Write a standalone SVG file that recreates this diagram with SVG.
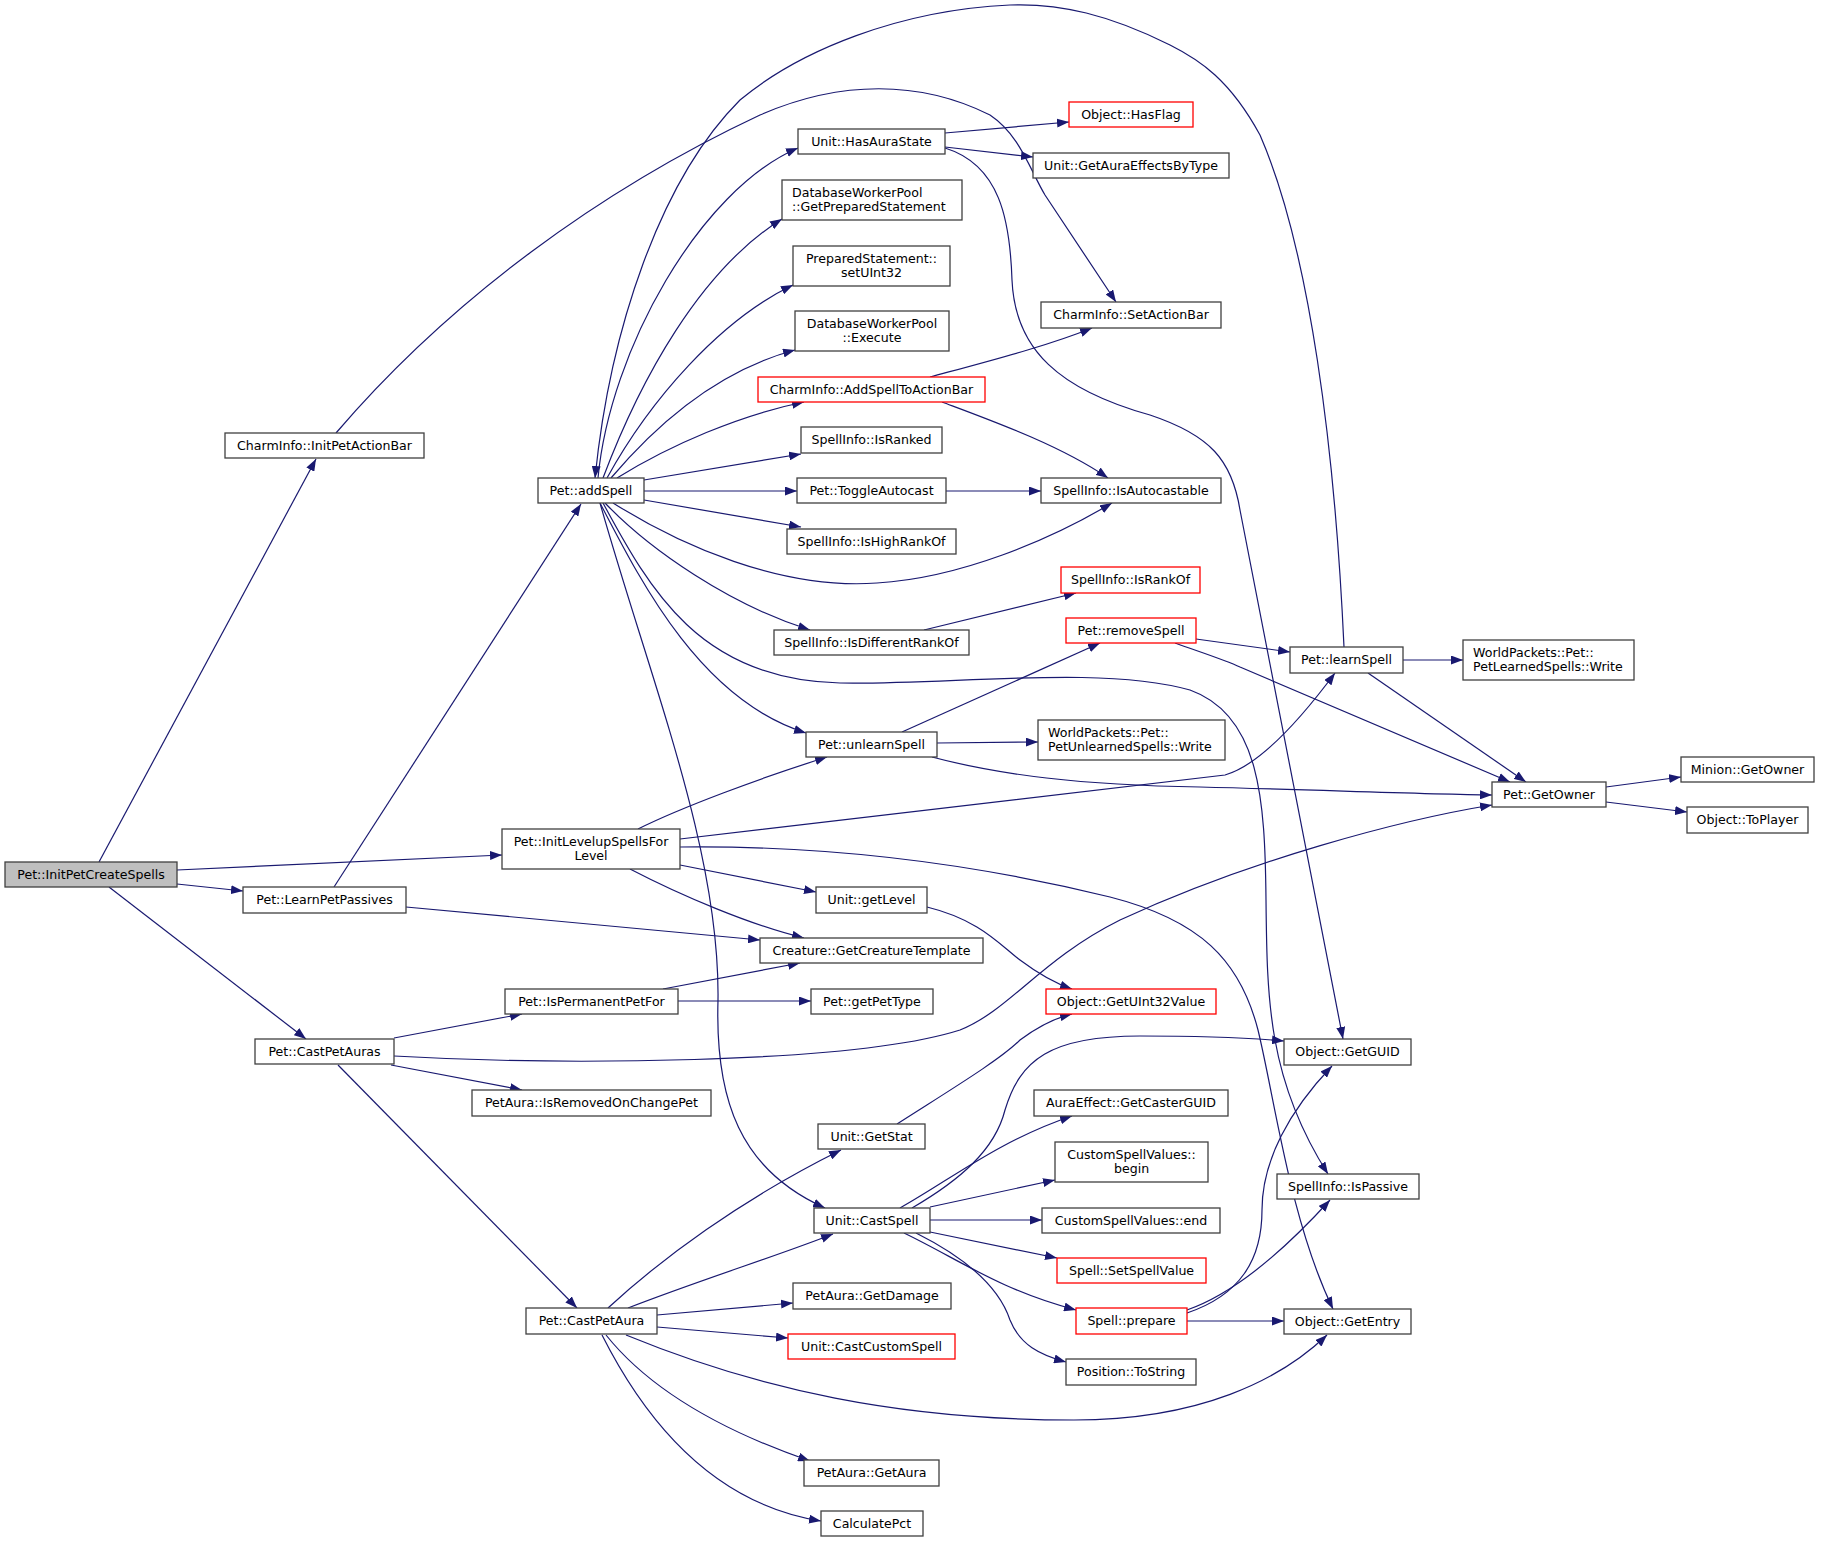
<svg xmlns="http://www.w3.org/2000/svg" width="1827" height="1543" viewBox="0 0 1827 1543">
<defs>
<marker id="ah" viewBox="0 0 12 9" refX="12" refY="4.5" markerWidth="12" markerHeight="9" markerUnits="userSpaceOnUse" orient="auto"><path d="M0,0 L12,4.5 L0,9 z" fill="#191970"/></marker>
<style>
.n rect{fill:#fff;stroke:#404040;stroke-width:1.3}
.r rect{fill:#fff;stroke:#ff0000;stroke-width:1.3}
.root rect{fill:#bfbfbf;stroke:#404040;stroke-width:1.3}
text{font-family:"DejaVu Sans","Liberation Sans",sans-serif;font-size:12.6px;fill:#000}
.c{text-anchor:middle}
.e path{fill:none;stroke:#191970;stroke-width:1.2;marker-end:url(#ah)}
</style>
</defs>
<rect width="1827" height="1543" fill="#fff"/>
<g class="e" id="connectors">
<path d="M99,862 L316,459"/>
<path d="M177,870 L502,855"/>
<path d="M177,884 L243,891"/>
<path d="M109,887 L306,1039"/>
<path d="M336,433 C450,300 600,190 760,115 C840,80 920,80 990,115 C1020,135 1030,170 1045,195 L1116,302"/>
<path d="M334,887 L581,504"/>
<path d="M406,907 L760,940"/>
<path d="M638,829 C680,808 760,778 827,757"/>
<path d="M680,839 L1225,775 C1260,765 1300,720 1335,673"/>
<path d="M680,865 L816,892"/>
<path d="M630,869 C680,895 750,925 804,938"/>
<path d="M680,847 C850,845 1000,870 1110,897 C1200,920 1240,960 1258,1030 C1275,1100 1290,1220 1333,1309"/>
<path d="M394,1038 L522,1014"/>
<path d="M394,1056 C550,1065 850,1065 960,1030 C1010,1010 1040,960 1120,920 C1250,860 1400,820 1492,805"/>
<path d="M391,1065 L522,1090"/>
<path d="M338,1065 L577,1308"/>
<path d="M663,989 L800,963"/>
<path d="M678,1001 L811,1001"/>
<path d="M598,478 C610,350 700,190 798,148"/>
<path d="M603,478 C640,380 700,270 782,219"/>
<path d="M607,478 C650,400 720,320 793,285"/>
<path d="M611,478 C660,420 720,370 795,350"/>
<path d="M617,478 C670,445 740,415 804,402"/>
<path d="M644,480 L801,454"/>
<path d="M644,491 L797,491"/>
<path d="M644,500 L801,527"/>
<path d="M613,503 C680,545 780,590 877,583 C960,578 1050,540 1112,503"/>
<path d="M605,503 C650,550 730,605 810,630"/>
<path d="M600,503 C640,580 700,700 806,733"/>
<path d="M603,503 C650,590 700,680 840,683 C950,685 1100,665 1190,690 C1260,715 1265,800 1266,900 C1267,1000 1268,1080 1328,1174"/>
<path d="M600,503 C650,680 720,850 718,1000 C715,1100 740,1170 825,1208"/>
<path d="M1344,647 C1335,450 1310,250 1260,135 C1230,80 1200,60 1170,45 C1110,15 1060,3 1010,5 C900,10 800,50 740,100 C660,180 610,330 595,478"/>
<path d="M945,133 L1069,122"/>
<path d="M945,147 L1033,157"/>
<path d="M945,148 C1000,165 1010,220 1012,280 C1015,350 1060,390 1150,415 C1210,435 1232,460 1240,510 L1343,1039"/>
<path d="M930,377 C1000,358 1050,345 1092,328"/>
<path d="M942,402 C990,420 1060,445 1108,478"/>
<path d="M946,491 L1041,491"/>
<path d="M924,630 L1076,593"/>
<path d="M902,732 L1100,643"/>
<path d="M937,743 L1038,742"/>
<path d="M932,757 C1000,775 1080,785 1200,787 C1320,790 1420,794 1492,795"/>
<path d="M1196,639 L1290,652"/>
<path d="M1175,643 C1200,652 1225,660 1240,667 L1510,782"/>
<path d="M1403,660 L1463,660"/>
<path d="M1368,673 L1526,782"/>
<path d="M1606,787 L1681,777"/>
<path d="M1606,802 L1687,812"/>
<path d="M927,907 C980,920 1000,945 1020,960 C1040,975 1060,985 1072,989"/>
<path d="M897,1124 C950,1090 1000,1060 1020,1040 C1040,1025 1055,1018 1072,1014"/>
<path d="M608,1308 C660,1260 740,1200 841,1150"/>
<path d="M628,1308 C700,1280 780,1255 833,1234"/>
<path d="M657,1315 L793,1303"/>
<path d="M657,1327 L788,1338"/>
<path d="M626,1335 C760,1390 900,1420 1074,1420 C1200,1420 1280,1380 1327,1335"/>
<path d="M606,1335 C650,1390 720,1430 810,1461"/>
<path d="M602,1335 C650,1430 720,1505 821,1521"/>
<path d="M900,1208 C950,1180 1000,1140 1072,1116"/>
<path d="M912,1208 C960,1180 995,1150 1005,1110 C1020,1060 1050,1036 1140,1036 C1200,1036 1250,1038 1284,1041"/>
<path d="M930,1207 L1055,1180"/>
<path d="M930,1220 L1042,1220"/>
<path d="M930,1232 L1057,1258"/>
<path d="M904,1233 C960,1260 1000,1290 1076,1310"/>
<path d="M916,1233 C970,1260 1000,1290 1010,1320 C1020,1345 1040,1355 1066,1362"/>
<path d="M1187,1313 C1240,1295 1262,1260 1262,1210 C1262,1160 1290,1110 1332,1066"/>
<path d="M1187,1310 C1230,1295 1280,1255 1330,1200"/>
<path d="M1187,1321 L1284,1321"/>
</g>
<g id="n1" class="root"><rect x="5" y="862" width="172" height="25"/><text class="c" x="91" y="879">Pet::InitPetCreateSpells</text></g>
<g id="n2" class="n"><rect x="225" y="433" width="199" height="25"/><text class="c" x="324.5" y="450">CharmInfo::InitPetActionBar</text></g>
<g id="n3" class="n"><rect x="243" y="887" width="163" height="26"/><text class="c" x="324.5" y="904">Pet::LearnPetPassives</text></g>
<g id="n4" class="n"><rect x="502" y="829" width="178" height="40"/><text class="c" x="591" y="846">Pet::InitLevelupSpellsFor</text><text class="c" x="591" y="860">Level</text></g>
<g id="n5" class="n"><rect x="255" y="1039" width="139" height="25"/><text class="c" x="324.5" y="1056">Pet::CastPetAuras</text></g>
<g id="n6" class="n"><rect x="538" y="478" width="106" height="25"/><text class="c" x="591" y="495">Pet::addSpell</text></g>
<g id="n7" class="n"><rect x="798" y="129" width="147" height="25"/><text class="c" x="871.5" y="146">Unit::HasAuraState</text></g>
<g id="n8" class="n"><rect x="782" y="180" width="180" height="40"/><text x="792" y="197">DatabaseWorkerPool</text><text x="792" y="211">::GetPreparedStatement</text></g>
<g id="n9" class="n"><rect x="793" y="246" width="157" height="40"/><text class="c" x="871.5" y="263">PreparedStatement::</text><text class="c" x="871.5" y="277">setUInt32</text></g>
<g id="n10" class="n"><rect x="795" y="311" width="154" height="40"/><text class="c" x="872" y="328">DatabaseWorkerPool</text><text class="c" x="872" y="342">::Execute</text></g>
<g id="n11" class="r"><rect x="758" y="377" width="227" height="25"/><text class="c" x="871.5" y="394">CharmInfo::AddSpellToActionBar</text></g>
<g id="n12" class="n"><rect x="801" y="427" width="141" height="26"/><text class="c" x="871.5" y="444">SpellInfo::IsRanked</text></g>
<g id="n13" class="n"><rect x="797" y="478" width="149" height="25"/><text class="c" x="871.5" y="495">Pet::ToggleAutocast</text></g>
<g id="n14" class="r"><rect x="1069" y="102" width="124" height="25"/><text class="c" x="1131" y="119">Object::HasFlag</text></g>
<g id="n15" class="n"><rect x="1033" y="153" width="196" height="25"/><text class="c" x="1131" y="170">Unit::GetAuraEffectsByType</text></g>
<g id="n16" class="n"><rect x="1041" y="302" width="180" height="26"/><text class="c" x="1131" y="319">CharmInfo::SetActionBar</text></g>
<g id="n17" class="n"><rect x="1041" y="478" width="180" height="25"/><text class="c" x="1131" y="495">SpellInfo::IsAutocastable</text></g>
<g id="n18" class="n"><rect x="787" y="529" width="169" height="25"/><text class="c" x="871.5" y="546">SpellInfo::IsHighRankOf</text></g>
<g id="n19" class="r"><rect x="1061" y="567" width="139" height="26"/><text class="c" x="1130.5" y="584">SpellInfo::IsRankOf</text></g>
<g id="n20" class="r"><rect x="1066" y="618" width="130" height="25"/><text class="c" x="1131" y="635">Pet::removeSpell</text></g>
<g id="n21" class="n"><rect x="774" y="630" width="195" height="25"/><text class="c" x="871.5" y="647">SpellInfo::IsDifferentRankOf</text></g>
<g id="n22" class="n"><rect x="806" y="732" width="131" height="25"/><text class="c" x="871.5" y="749">Pet::unlearnSpell</text></g>
<g id="n23" class="n"><rect x="1038" y="720" width="187" height="40"/><text x="1048" y="737">WorldPackets::Pet::</text><text x="1048" y="751">PetUnlearnedSpells::Write</text></g>
<g id="n24" class="n"><rect x="816" y="887" width="111" height="26"/><text class="c" x="871.5" y="904">Unit::getLevel</text></g>
<g id="n25" class="n"><rect x="760" y="938" width="223" height="25"/><text class="c" x="871.5" y="955">Creature::GetCreatureTemplate</text></g>
<g id="n26" class="n"><rect x="505" y="989" width="173" height="25"/><text class="c" x="591.5" y="1006">Pet::IsPermanentPetFor</text></g>
<g id="n27" class="n"><rect x="811" y="989" width="122" height="25"/><text class="c" x="872" y="1006">Pet::getPetType</text></g>
<g id="n28" class="r"><rect x="1046" y="989" width="170" height="25"/><text class="c" x="1131" y="1006">Object::GetUInt32Value</text></g>
<g id="n29" class="n"><rect x="1290" y="647" width="113" height="26"/><text class="c" x="1346.5" y="664">Pet::learnSpell</text></g>
<g id="n30" class="n"><rect x="1463" y="640" width="171" height="40"/><text x="1473" y="657">WorldPackets::Pet::</text><text x="1473" y="671">PetLearnedSpells::Write</text></g>
<g id="n31" class="n"><rect x="1492" y="782" width="114" height="25"/><text class="c" x="1549" y="799">Pet::GetOwner</text></g>
<g id="n32" class="n"><rect x="1681" y="757" width="133" height="25"/><text class="c" x="1747.5" y="774">Minion::GetOwner</text></g>
<g id="n33" class="n"><rect x="1687" y="807" width="121" height="26"/><text class="c" x="1747.5" y="824">Object::ToPlayer</text></g>
<g id="n34" class="n"><rect x="472" y="1090" width="239" height="26"/><text class="c" x="591.5" y="1107">PetAura::IsRemovedOnChangePet</text></g>
<g id="n35" class="n"><rect x="526" y="1308" width="131" height="26"/><text class="c" x="591.5" y="1325">Pet::CastPetAura</text></g>
<g id="n36" class="n"><rect x="818" y="1124" width="107" height="25"/><text class="c" x="871.5" y="1141">Unit::GetStat</text></g>
<g id="n37" class="n"><rect x="814" y="1208" width="116" height="25"/><text class="c" x="872" y="1225">Unit::CastSpell</text></g>
<g id="n38" class="n"><rect x="1034" y="1090" width="194" height="26"/><text class="c" x="1131" y="1107">AuraEffect::GetCasterGUID</text></g>
<g id="n39" class="n"><rect x="1055" y="1142" width="153" height="40"/><text class="c" x="1131.5" y="1159">CustomSpellValues::</text><text class="c" x="1131.5" y="1173">begin</text></g>
<g id="n40" class="n"><rect x="1042" y="1208" width="178" height="25"/><text class="c" x="1131" y="1225">CustomSpellValues::end</text></g>
<g id="n41" class="r"><rect x="1057" y="1258" width="149" height="25"/><text class="c" x="1131.5" y="1275">Spell::SetSpellValue</text></g>
<g id="n42" class="r"><rect x="1076" y="1308" width="111" height="26"/><text class="c" x="1131.5" y="1325">Spell::prepare</text></g>
<g id="n43" class="n"><rect x="1066" y="1359" width="130" height="26"/><text class="c" x="1131" y="1376">Position::ToString</text></g>
<g id="n44" class="n"><rect x="793" y="1283" width="158" height="26"/><text class="c" x="872" y="1300">PetAura::GetDamage</text></g>
<g id="n45" class="r"><rect x="788" y="1334" width="167" height="25"/><text class="c" x="871.5" y="1351">Unit::CastCustomSpell</text></g>
<g id="n46" class="n"><rect x="804" y="1460" width="135" height="26"/><text class="c" x="871.5" y="1477">PetAura::GetAura</text></g>
<g id="n47" class="n"><rect x="821" y="1511" width="102" height="25"/><text class="c" x="872" y="1528">CalculatePct</text></g>
<g id="n48" class="n"><rect x="1284" y="1039" width="127" height="26"/><text class="c" x="1347.5" y="1056">Object::GetGUID</text></g>
<g id="n49" class="n"><rect x="1277" y="1174" width="142" height="25"/><text class="c" x="1348" y="1191">SpellInfo::IsPassive</text></g>
<g id="n50" class="n"><rect x="1284" y="1309" width="127" height="25"/><text class="c" x="1347.5" y="1326">Object::GetEntry</text></g>
</svg>
